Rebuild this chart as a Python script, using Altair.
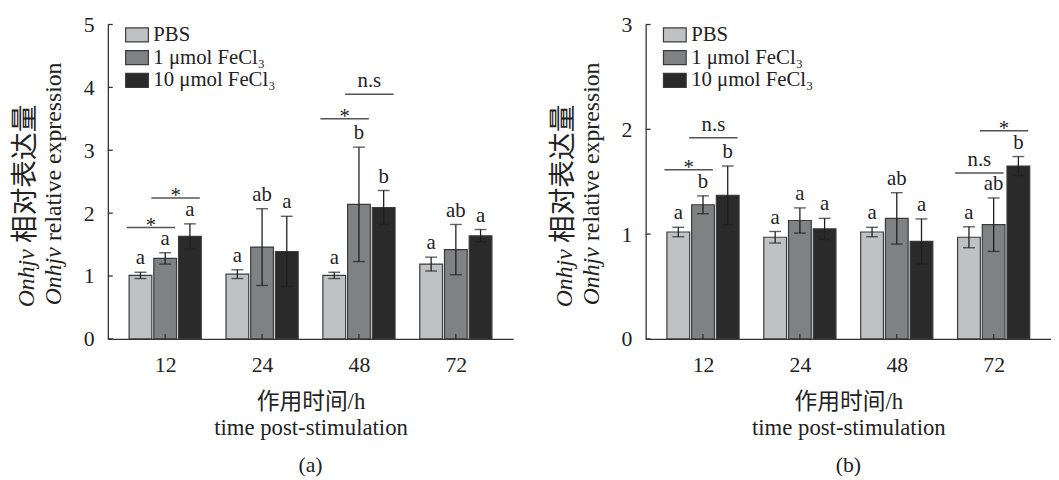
import json
import altair as alt
import pandas as pd

# ---------------- data ----------------
HOURS = ["12", "24", "48", "72"]
SERIES = ["PBS", "1 μmol FeCl₃", "10 μmol FeCl₃"]
COLORS = ["#c0c1c3", "#808183", "#2b2a2b"]

# panel (a)
A_PBS = [1.01, 1.03, 1.01, 1.19]
A_PBS_SD = [0.05, 0.07, 0.05, 0.11]
A_FE1 = [1.28, 1.46, 2.14, 1.42]
A_FE1_SD = [0.09, 0.61, 0.91, 0.40]
A_FE10 = [1.63, 1.39, 2.09, 1.64]
A_FE10_SD = [0.20, 0.56, 0.27, 0.10]
A_LET_PBS = ["a", "a", "a", "a"]
A_LET_FE1 = ["a", "ab", "b", "ab"]
A_LET_FE10 = ["a", "a", "b", "a"]
A_BR_HOUR = ["12", "12", "48", "48"]
A_BR_FROM = ["PBS", "1 μmol FeCl₃", "PBS", "1 μmol FeCl₃"]
A_BR_Y = [1.77, 2.24, 3.50, 3.89]
A_BR_LABEL = ["*", "*", "*", "n.s"]
A_YTICKS = [0, 1, 2, 3, 4, 5]

# panel (b)
B_PBS = [1.02, 0.97, 1.02, 0.97]
B_PBS_SD = [0.045, 0.055, 0.045, 0.10]
B_FE1 = [1.28, 1.13, 1.15, 1.09]
B_FE1_SD = [0.085, 0.12, 0.245, 0.255]
B_FE10 = [1.37, 1.05, 0.93, 1.65]
B_FE10_SD = [0.28, 0.10, 0.215, 0.09]
B_LET_PBS = ["a", "a", "a", "a"]
B_LET_FE1 = ["b", "a", "ab", "ab"]
B_LET_FE10 = ["b", "a", "a", "b"]
B_BR_HOUR = ["12", "12", "72", "72"]
B_BR_FROM = ["PBS", "1 μmol FeCl₃", "PBS", "1 μmol FeCl₃"]
B_BR_Y = [1.615, 1.92, 1.583, 1.986]
B_BR_LABEL = ["*", "n.s", "n.s", "*"]
B_YTICKS = [0, 1, 2, 3]

X_TITLE = ["作用时间/h", "time post-stimulation"]

# ---------------- style / layout ----------------
FONT = "Liberation Serif, Noto Sans CJK SC"
INK = "#222222"
AXIS = "#333333"
W, H = 410, 318
STEP_PX = 98.0
BAR_STEP_PX = 25.0
BAR_W = 23
U = 1.0 / STEP_PX
XDOM = [1.5 - W / 2 * U, 1.5 + W / 2 * U]
LEGEND_PATH = "M-1,-0.61L1,-0.61L1,0.61L-1,0.61Z"


def rot_text(txt, x, y, size, style="normal"):
    return alt.Chart(pd.DataFrame({"t": [txt]})).mark_text(
        angle=270, align="left", baseline="alphabetic", font=FONT, fontSize=size,
        fontStyle=style, color=INK
    ).encode(x=alt.value(x), y=alt.value(y), text="t:N")


def panel(means, sds, letters, br_hour, br_from, br_y, br_label, yticks, caption):
    ymax = yticks[-1]
    xaxis = alt.Axis(values=list(range(len(HOURS))),
                     labelExpr=f"{json.dumps(HOURS)}[datum.value]",
                     title=X_TITLE, titleLineHeight=27, labelPadding=16, titlePadding=15,
                     ticks=False, tickSize=0, grid=False, labelFlush=False)
    yaxis = alt.Axis(values=yticks, title=None, ticks=False, tickSize=0, grid=False,
                     labelPadding=14, format="d")

    def X(field):
        return alt.X(f"{field}:Q",
                     scale=alt.Scale(domain=XDOM, nice=False, zero=False, padding=0),
                     axis=xaxis)

    def Y(field):
        return alt.Y(f"{field}:Q",
                     scale=alt.Scale(domain=[0, ymax], nice=False, zero=True, padding=0),
                     axis=yaxis, stack=None)

    rows = []
    for si, s in enumerate(SERIES):
        for hi_, h in enumerate(HOURS):
            m, sd = means[si][hi_], sds[si][hi_]
            rows.append(dict(hour=h, series=s, mean=m, lo=m - sd, hi=m + sd,
                             letter=letters[si][hi_],
                             pos=hi_ + (si - 1) * BAR_STEP_PX * U))
    df = pd.DataFrame(rows)

    brows = []
    for h, f, yv, lab in zip(br_hour, br_from, br_y, br_label):
        hi_ = HOURS.index(h)
        si = SERIES.index(f)
        left = hi_ + (si - 1) * BAR_STEP_PX * U
        right = left + BAR_STEP_PX * U
        x0, x1 = left - 14 * U, right + 10 * U
        brows.append(dict(x0=x0, x1=x1, xm=(x0 + x1) / 2, yb=yv, label=lab))
    bdf = pd.DataFrame(brows)

    legend = alt.Legend(title=None, orient="none", legendX=17, legendY=-2,
                        symbolType=LEGEND_PATH, symbolSize=529, symbolStrokeColor="#3a3a3a",
                        symbolStrokeWidth=1.2, symbolOpacity=1, labelFont=FONT,
                        labelFontSize=21, labelColor=INK, labelOffset=4, rowPadding=0,
                        padding=0)

    base = alt.Chart(df)
    bars = base.mark_bar(orient="vertical", width=BAR_W, stroke="#3a3a3a", strokeWidth=1.2,
                         opacity=1).encode(
        x=X("pos"), y=Y("mean"),
        color=alt.Color("series:N", scale=alt.Scale(domain=SERIES, range=COLORS), legend=legend))
    err = base.mark_rule(color="#1e1e1e", strokeWidth=1.3).encode(
        x=X("pos"), y=Y("lo"), y2="hi:Q")
    cap_hi = base.mark_tick(orient="horizontal", size=12, thickness=1.4, color="#1e1e1e").encode(
        x=X("pos"), y=Y("hi"))
    cap_lo = base.mark_tick(orient="horizontal", size=12, thickness=1.4, color="#1e1e1e").encode(
        x=X("pos"), y=Y("lo"))
    lets = base.mark_text(baseline="alphabetic", dy=-8, font=FONT, fontSize=21, color=INK).encode(
        x=X("pos"), y=Y("hi"), text="letter:N")

    bbase = alt.Chart(bdf)
    brules = bbase.mark_rule(color="#555555", strokeWidth=1.5).encode(
        x=X("x0"), x2="x1:Q", y=Y("yb"))
    stars = bbase.transform_filter(alt.datum.label == "*").mark_text(
        baseline="alphabetic", dy=4, font=FONT, fontSize=21, color=INK).encode(
        x=X("xm"), y=Y("yb"), text="label:N")
    ns = bbase.transform_filter(alt.datum.label != "*").mark_text(
        baseline="alphabetic", dy=-7, font=FONT, fontSize=21, color=INK).encode(
        x=X("xm"), y=Y("yb"), text="label:N")

    yt = alt.Chart(pd.DataFrame({"v": yticks})).mark_rule(color=AXIS, strokeWidth=1.3).encode(
        y=Y("v"), x=alt.value(0), x2=alt.value(5))
    xt = alt.Chart(pd.DataFrame({"p": list(range(len(HOURS)))})).mark_rule(
        color=AXIS, strokeWidth=1.3).encode(x=X("p"), y=alt.value(H), y2=alt.value(H - 5))

    t1a = rot_text("Onhjv", -75, 286, 24, "italic")
    t1b = rot_text("相对表达量", -75, 221, 28)
    t2a = rot_text("Onhjv", -47, 284, 24, "italic")
    t2b = rot_text("relative expression", -47, 219, 24)

    return alt.layer(bars, err, cap_hi, cap_lo, lets, brules, stars, ns, yt, xt,
                     t1a, t1b, t2a, t2b).properties(
        width=W, height=H,
        title=alt.TitleParams(caption, orient="bottom", offset=16, anchor="middle"))


pa = panel([A_PBS, A_FE1, A_FE10], [A_PBS_SD, A_FE1_SD, A_FE10_SD],
           [A_LET_PBS, A_LET_FE1, A_LET_FE10], A_BR_HOUR, A_BR_FROM, A_BR_Y, A_BR_LABEL,
           A_YTICKS, "(a)")
pb = panel([B_PBS, B_FE1, B_FE10], [B_PBS_SD, B_FE1_SD, B_FE10_SD],
           [B_LET_PBS, B_LET_FE1, B_LET_FE10], B_BR_HOUR, B_BR_FROM, B_BR_Y, B_BR_LABEL,
           B_YTICKS, "(b)")

chart = alt.hconcat(pa, pb, spacing=134, bounds="flush").resolve_scale(
    x="independent", y="independent", color="independent"
).resolve_legend(color="independent").properties(
    padding={"left": 4, "top": 3, "right": 0, "bottom": 0}
).configure_view(stroke=None).configure_axis(
    domainColor=AXIS, domainWidth=1.3, labelFont=FONT, labelFontSize=22, labelColor=INK,
    titleFont=FONT, titleFontSize=23, titleFontWeight="normal", titleColor=INK, grid=False
).configure_title(font=FONT, fontSize=22, fontWeight="normal", color=INK)

chart.save("out.html", embed_options={"renderer": "svg", "actions": False})
